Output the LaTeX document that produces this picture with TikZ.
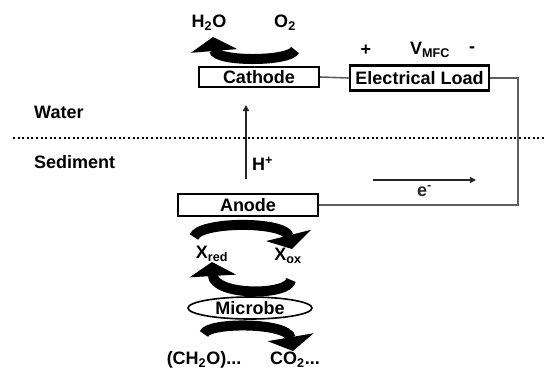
\documentclass[tikz,border=0pt]{standalone}
\usepackage{fontspec}
\setmainfont{Liberation Sans}
\usetikzlibrary{arrows.meta, positioning, shapes.geometric}
\definecolor{WireGray}{RGB}{95, 95, 95}

\begin{document}
\begin{tikzpicture}[
  x=1pt, y=-1pt,
  font=\fontsize{18}{21}\selectfont\bfseries,
  electrode/.style={draw, rectangle, line width=2pt,
                    minimum height=20pt, inner sep=0pt, text centered},
  loadbox/.style={draw, rectangle, line width=2.6pt,
                  minimum width=139pt, minimum height=25pt, inner sep=0pt},
  microbe/.style={draw, ellipse, line width=1.6pt,
                  minimum width=124pt, minimum height=22pt, inner sep=0pt},
  lbl/.style={inner sep=0pt},
  wire/.style={WireGray, line width=1.6pt},
  flow/.style={-{Triangle[length=6pt, width=6pt]}, black!85, line width=1.6pt},
  fatarr/.style={line width=10pt, -{Triangle[length=14pt, width=46pt]}},
]
\useasboundingbox (0,0) rectangle (546,370);

% electrodes and load
\node[electrode, minimum width=120pt] (cathode) at (259,77)  {Cathode};
\node[electrode, minimum width=140pt, minimum height=22pt] (anode) at (248,205) {Anode};
\node[loadbox] (load) at (419.5,78) {Electrical Load};
\node[microbe] (mic) at (250,308) {Microbe};

% labels
\node[lbl] (h2o)  at (209,23)  {H\textsubscript{2}O};
\node[lbl] (o2)   at (285,23)  {O\textsubscript{2}};
\node[lbl] (plus) at (366,50)  {+};
\node[lbl] (vmfc) at (430,50)  {V\textsubscript{MFC}};
\node[lbl] (minus) at (472,50) {-};
\node[lbl, anchor=west] (water) at (34,112) {Water};
\node[lbl, anchor=west] (sed)   at (34,162) {Sediment};
\node[lbl] (xred) at (212,254) {X\textsubscript{red}};
\node[lbl] (xox)  at (288,256) {X\textsubscript{ox}};
\node[lbl] (ch2o) at (204,360) {(CH\textsubscript{2}O)...};
\node[lbl] (co2)  at (295,360) {CO\textsubscript{2}...};

% water / sediment interface
\coordinate (ifl) at (13,138);
\coordinate (ifr) at (546,138);
\draw[line width=2pt, dash pattern=on 2pt off 2.6pt] (ifl) -- (ifr);

% circuit
\coordinate (corner) at (518,78);
\draw[wire] (cathode.east) -- (load.west);
\draw[wire] (load.east) -- (corner) |- (anode.east);

% proton and electron flow
\coordinate (hbot) at (246,179);
\coordinate (htop) at (246,105);
\draw[flow] (hbot) -- (htop);
\node[lbl, anchor=west] (hplus) at (252,164) {H\textsuperscript{+}};
\coordinate (ebeg) at (373,180);
\coordinate (eend) at (476,180);
\draw[flow] (ebeg) -- node[lbl, below=5pt] (elbl) {e\textsuperscript{-}} (eend);

% redox cycles
\draw[fatarr] (295,50) .. controls (290,62) and (215,62) .. (213,37);
\draw[fatarr] (194,237) .. controls (199,221) and (285,221) .. (292,249);
\draw[fatarr] (291,280) .. controls (289,296) and (214,296) .. (212,262);
\draw[fatarr] (204,334) .. controls (207,322) and (288,322) .. (293,351);
\end{tikzpicture}
\end{document}
